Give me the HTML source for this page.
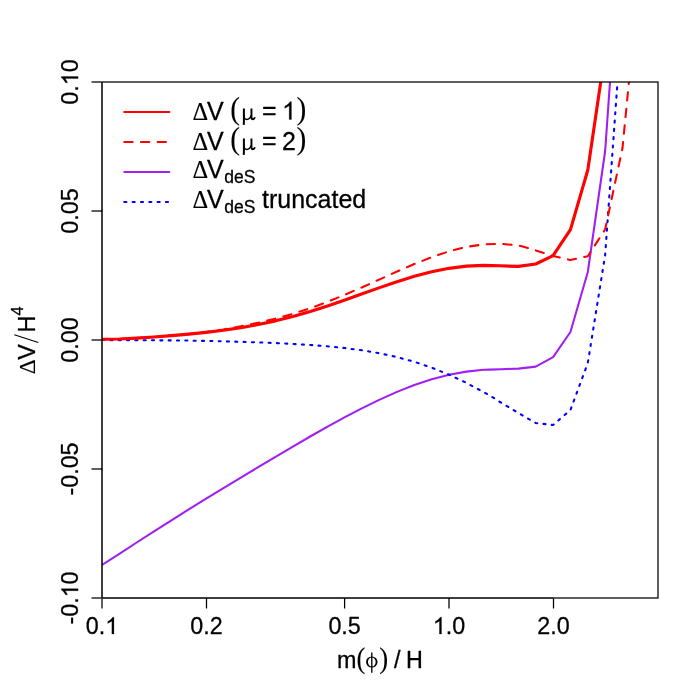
<!DOCTYPE html>
<html><head><meta charset="utf-8"><title>plot</title>
<style>
html,body{margin:0;padding:0;background:#fff;}
svg{display:block;opacity:0.999;will-change:transform}
text{font-family:"Liberation Sans",sans-serif;font-size:23.33px;fill:#000;stroke:#000;stroke-width:0.28px;stroke-linejoin:round}
.sy{font-family:"Liberation Serif",serif;stroke-width:0.1px}
</style></head><body>
<svg width="700" height="700" viewBox="0 0 700 700">
<rect width="700" height="700" fill="#fff"/>
<defs><clipPath id="c"><rect x="102" y="82" width="556" height="516"/></clipPath></defs>
<g clip-path="url(#c)" fill="none" stroke-linejoin="round" stroke-linecap="round">
<path d="M102.00,565.00 L119.35,553.78 L136.70,542.50 L154.06,531.30 L171.41,520.26 L188.76,509.37 L206.12,498.64 L223.47,488.05 L240.82,477.55 L258.17,467.14 L275.52,456.82 L292.88,446.60 L310.23,436.52 L327.58,426.67 L344.94,417.15 L362.29,408.07 L379.64,399.60 L396.99,391.87 L414.34,385.07 L431.70,379.35 L449.05,374.83 L466.40,371.62 L483.75,369.77 L490.00,369.60 L501.00,369.20 L518.40,368.60 L535.75,366.60 L553.10,357.20 L570.45,332.00 L587.80,272.00 L605.15,151.00 L622.50,-96.00" stroke="#a020f0" stroke-width="2.08"/>
<path d="M102.00,339.98 L119.35,340.21 L136.70,340.27 L154.06,340.31 L171.41,340.41 L188.76,340.60 L206.12,340.91 L223.47,341.31 L240.82,341.81 L258.17,342.40 L275.52,343.09 L292.88,343.93 L310.23,344.98 L327.58,346.32 L344.94,348.07 L362.29,350.35 L379.64,353.31 L396.99,357.09 L414.34,361.83 L431.70,367.66 L449.05,374.66 L466.40,382.86 L483.75,392.22 L490.00,395.60 L500.00,402.00 L520.00,414.00 L535.75,423.00 L553.10,425.00 L570.45,410.00 L587.80,363.00 L605.15,255.00 L622.50,12.00" stroke="#0000ff" stroke-width="2.08" stroke-dasharray="2.08 6.25"/>
<path d="M102.00,339.22 L119.35,338.94 L136.70,338.10 L154.06,336.96 L171.41,335.62 L188.76,334.09 L206.12,332.33 L223.47,330.22 L240.82,327.67 L258.17,324.57 L275.52,320.85 L292.88,316.48 L310.23,311.49 L327.58,305.95 L344.94,299.99 L362.29,293.80 L379.64,287.62 L396.99,281.70 L414.34,276.34 L431.70,271.80 L449.05,268.34 L466.40,266.16 L483.75,265.36 L500.00,265.80 L518.40,266.40 L535.75,264.00 L553.10,255.60 L570.45,229.60 L587.80,170.00 L605.15,52.00" stroke="#ff0000" stroke-width="3.13"/>
<path d="M102.00,339.19 L119.35,338.94 L136.70,338.16 L154.06,337.02 L171.41,335.62 L188.76,333.95 L206.12,331.93 L223.47,329.41 L240.82,326.30 L258.17,322.70 L275.52,318.63 L292.88,313.85 L310.23,308.22 L327.58,301.80 L344.94,294.74 L362.29,287.20 L379.64,279.39 L396.99,271.57 L414.34,264.05 L431.70,257.17 L449.05,251.33 L466.40,246.91 L483.75,244.33 L500.00,243.80 L518.40,245.40 L535.75,250.40 L553.10,256.00 L570.45,260.00 L587.80,256.20 L605.15,229.30 L622.50,148.00 L639.85,-30.00" stroke="#ff0000" stroke-width="2.08" stroke-dasharray="8.33 8.33"/>
</g>
<g stroke="#000" fill="none" stroke-linecap="butt" stroke-linejoin="miter">
<rect x="102" y="82" width="556" height="516" stroke-width="1.26"/>
<path stroke-width="1.26" d="M102,598.6V608.4 M206.5,598V608.4 M344.6,598V608.4 M449,598V608.4 M553.5,598.6V608.4"/>
<g stroke-width="1.26"><line x1="101.4" y1="598" x2="91.5" y2="598"/><line x1="102" y1="469" x2="91.5" y2="469"/><line x1="102" y1="340" x2="91.5" y2="340"/><line x1="102" y1="211" x2="91.5" y2="211"/><line x1="101.4" y1="82" x2="91.5" y2="82"/></g>
<path stroke-width="0.69" d="M102,598H553.5"/>
<path stroke-width="0.69" d="M102,598V82"/>
</g>
<g id="ticklabels">
<text x="85.79" y="634.00" style="font-size:23.33px">0.</text><path transform="translate(105.24,634.00) scale(0.01139,-0.01139)" d="M763,0H583V1147Q518,1085 412.5,1023Q307,961 223,930V1104Q374,1175 487,1276Q600,1377 647,1472H763Z" fill="#000" stroke="#000" stroke-width="24.6" stroke-linejoin="round"/><text x="190.29" y="634.00" style="font-size:23.33px">0.2</text><text x="328.39" y="634.00" style="font-size:23.33px">0.5</text><path transform="translate(432.79,634.00) scale(0.01139,-0.01139)" d="M763,0H583V1147Q518,1085 412.5,1023Q307,961 223,930V1104Q374,1175 487,1276Q600,1377 647,1472H763Z" fill="#000" stroke="#000" stroke-width="24.6" stroke-linejoin="round"/><text x="445.76" y="634.00" style="font-size:23.33px">.0</text><text x="537.29" y="634.00" style="font-size:23.33px">2.0</text>
<g transform="translate(78.1,598) rotate(-90)"><text x="-26.58" y="0.00" style="font-size:23.33px">-0.</text><path transform="translate(0.64,0.00) scale(0.01139,-0.01139)" d="M763,0H583V1147Q518,1085 412.5,1023Q307,961 223,930V1104Q374,1175 487,1276Q600,1377 647,1472H763Z" fill="#000" stroke="#000" stroke-width="24.6" stroke-linejoin="round"/><text x="13.61" y="0.00" style="font-size:23.33px">0</text></g>
<g transform="translate(78.1,469) rotate(-90)"><text x="-26.58" y="0.00" style="font-size:23.33px">-0.05</text></g>
<g transform="translate(78.1,340) rotate(-90)"><text x="-22.70" y="0.00" style="font-size:23.33px">0.00</text></g>
<g transform="translate(78.1,211) rotate(-90)"><text x="-22.70" y="0.00" style="font-size:23.33px">0.05</text></g>
<g transform="translate(78.1,82) rotate(-90)"><text x="-22.70" y="0.00" style="font-size:23.33px">0.</text><path transform="translate(-3.24,0.00) scale(0.01139,-0.01139)" d="M763,0H583V1147Q518,1085 412.5,1023Q307,961 223,930V1104Q374,1175 487,1276Q600,1377 647,1472H763Z" fill="#000" stroke="#000" stroke-width="24.6" stroke-linejoin="round"/><text x="9.73" y="0.00" style="font-size:23.33px">0</text></g>
</g>
<g id="xlab">
<text x="337" y="668">m</text>
<text class="sy" transform="translate(356.4,668.10) scale(0.88,1)" style="font-size:30.4px">(</text>
<path fill="#000" fill-rule="evenodd" stroke="none" d="M366.05,662.0a5.75,5.5 0 1,0 11.5,0a5.75,5.5 0 1,0 -11.5,0Z M367.95,662.0a3.85,4.6 0 1,1 7.7,0a3.85,4.6 0 1,1 -7.7,0Z"/>
<path stroke="#000" stroke-width="1.35" fill="none" d="M371.8,652.4V672.7"/>
<text class="sy" transform="translate(379.3,668.10) scale(0.88,1)" style="font-size:30.4px">)</text>
<text x="394" y="668">/</text>
<text x="406" y="668">H</text>
</g>
<g id="ylab" transform="translate(34.8,373.9) rotate(-90)">
<text class="sy" x="-0.4" y="0" style="font-size:23.33px">Δ</text>
<text x="14.2" y="0">V</text>
<path d="M31.4,3.5 L39.1,-20.5" stroke="#000" stroke-width="1.1" fill="none"/>
<text x="41.4" y="0">H</text>
<text x="58.3" y="-12" style="font-size:16.3px">4</text>
</g>
<g fill="none" stroke-width="2.08" stroke-linecap="round">
<path d="M124.3,112.05H169.3" stroke="#ff0000"/>
<path d="M124.3,142.05H169.3" stroke="#ff0000" stroke-dasharray="8.33 8.33"/>
<path d="M124.3,172.05H169.3" stroke="#a020f0"/>
<path d="M124.3,202.05H169.3" stroke="#0000ff" stroke-dasharray="2.08 6.25"/>
</g>
<g id="legend">
<text class="sy" x="192.4" y="119.6" style="font-size:24.4px">Δ</text><text x="207" y="119.6" style="font-size:25px">V</text><text class="sy" transform="translate(230.3,119.20) scale(0.9,1)" style="font-size:32.6px">(</text><g transform="translate(242.0,119.6)" fill="none" stroke="#000" stroke-linecap="butt" stroke-linejoin="round"><path stroke-width="2.0" d="M1.9,-11.1V2.2L1.75,5.3"/><path stroke-width="1.35" d="M1.9,-4.3C1.9,-0.6 3.3,-0.15 4.8,-0.15C6.6,-0.15 8.4,-1.8 9.3,-4.3"/><path stroke-width="1.9" d="M9.45,-11.1V-2.6Q9.45,-0.3 10.9,-0.3Q12.2,-0.3 12.9,-2.3"/></g><text x="261.9" y="119.00" style="font-size:25px">=</text><path transform="translate(282.10,119.60) scale(0.01221,-0.01221)" d="M763,0H583V1147Q518,1085 412.5,1023Q307,961 223,930V1104Q374,1175 487,1276Q600,1377 647,1472H763Z" fill="#000" stroke="#000" stroke-width="22.9" stroke-linejoin="round"/><text class="sy" transform="translate(296.6,119.20) scale(0.9,1)" style="font-size:32.6px">)</text>
<text class="sy" x="192.4" y="149.6" style="font-size:24.4px">Δ</text><text x="207" y="149.6" style="font-size:25px">V</text><text class="sy" transform="translate(230.3,149.20) scale(0.9,1)" style="font-size:32.6px">(</text><g transform="translate(242.0,149.6)" fill="none" stroke="#000" stroke-linecap="butt" stroke-linejoin="round"><path stroke-width="2.0" d="M1.9,-11.1V2.2L1.75,5.3"/><path stroke-width="1.35" d="M1.9,-4.3C1.9,-0.6 3.3,-0.15 4.8,-0.15C6.6,-0.15 8.4,-1.8 9.3,-4.3"/><path stroke-width="1.9" d="M9.45,-11.1V-2.6Q9.45,-0.3 10.9,-0.3Q12.2,-0.3 12.9,-2.3"/></g><text x="261.9" y="149.00" style="font-size:25px">=</text><text x="282.10" y="149.60" style="font-size:25px">2</text><text class="sy" transform="translate(296.6,149.20) scale(0.9,1)" style="font-size:32.6px">)</text>
<text class="sy" x="192.4" y="178.3" style="font-size:24.4px">Δ</text><text x="207" y="178.3" style="font-size:25px">V</text><text x="224.2" y="182.70000000000002" style="font-size:17.5px">deS</text>
<text class="sy" x="192.4" y="208.3" style="font-size:24.4px">Δ</text><text x="207" y="208.3" style="font-size:25px">V</text><text x="224.2" y="212.70000000000002" style="font-size:17.5px">deS</text><text x="262" y="208.3" style="font-size:25px">truncated</text>
</g>
</svg>
</body></html>
